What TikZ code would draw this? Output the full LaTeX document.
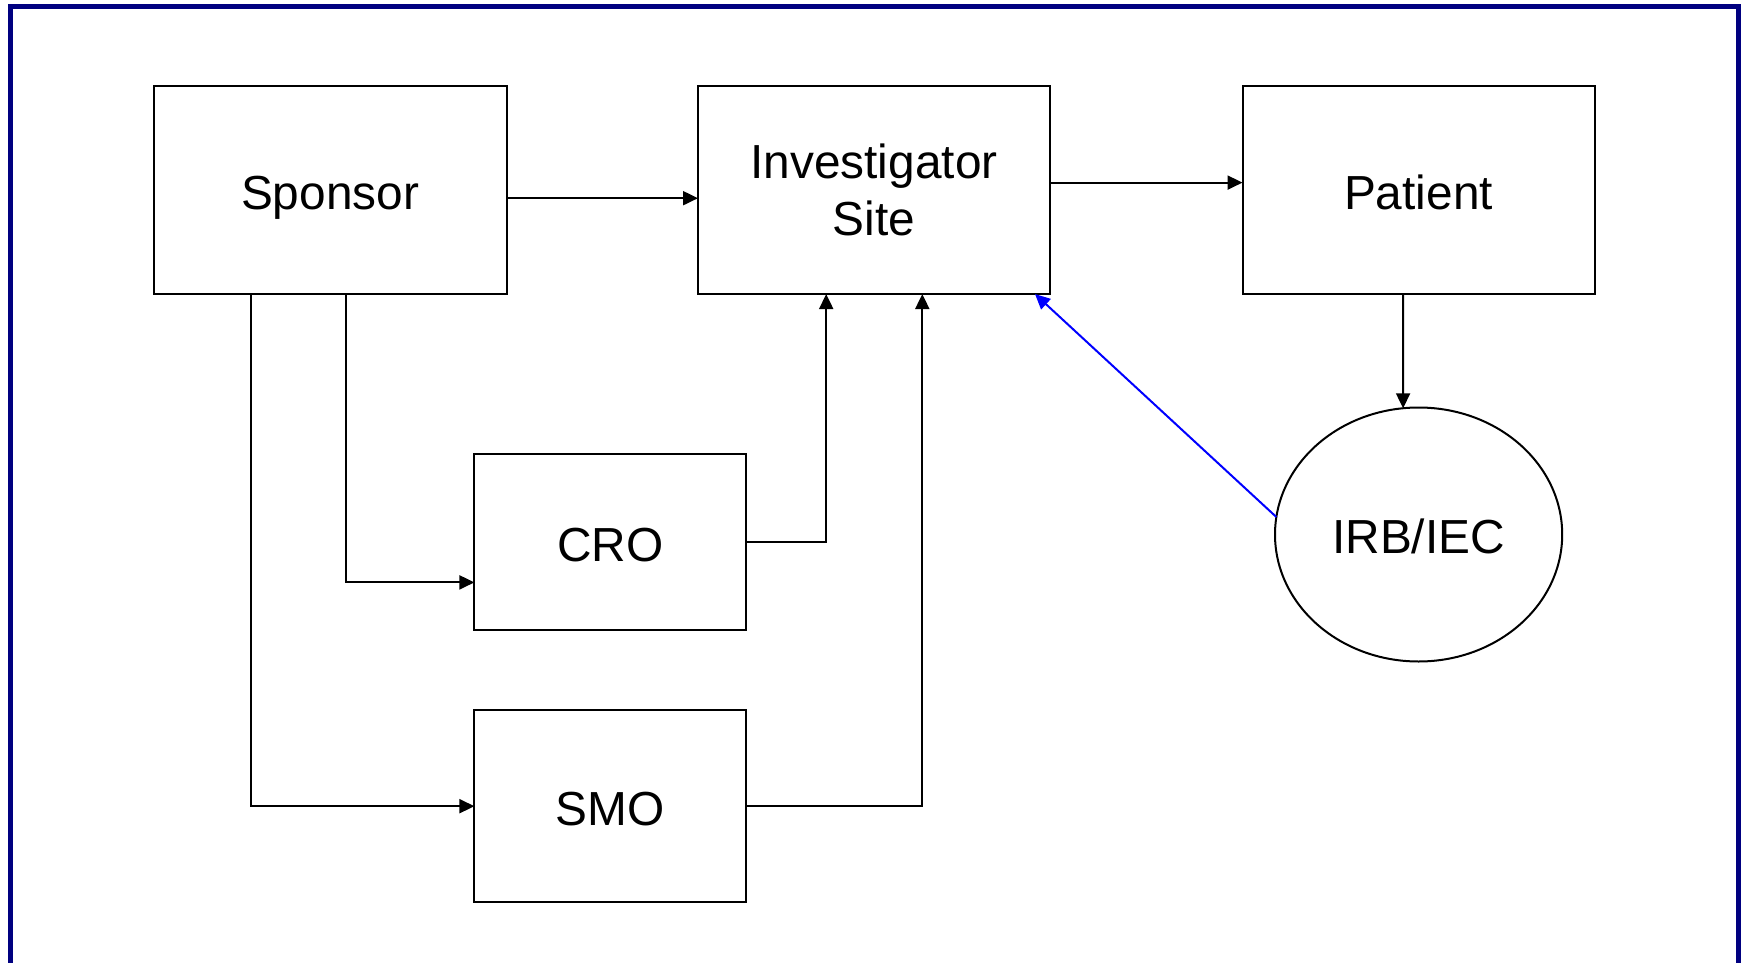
\documentclass[tikz,border=0pt]{standalone}
\usepackage{fontspec}
\setmainfont{Liberation Sans}
\usetikzlibrary{arrows.meta,shapes.geometric}
\definecolor{navyframe}{RGB}{0,0,128}
\definecolor{bluearrow}{RGB}{0,0,255}
\begin{document}
\begin{tikzpicture}[x=1pt,y=-1pt,
  lbl/.style={font=\fontsize{47.8}{57}\selectfont, align=center, text=black},
  oneline/.style={text height=38.2pt, text depth=0pt},
  boxnode/.style={draw=black, line width=2pt, rectangle, inner sep=0pt, outer sep=0pt, lbl},
  ovalnode/.style={draw=black, line width=2pt, ellipse, inner sep=0pt, outer sep=0pt, lbl},
  conn/.style={draw=black, line width=2pt, -{Triangle[length=15pt,width=14pt]}},
  blueconn/.style={draw=bluearrow, line width=2pt, -{Triangle[length=15pt,width=14pt]}}
]
\useasboundingbox (0,0) rectangle (1746,963);
\fill[white] (0,0) rectangle (1746,963);
\draw[navyframe, line width=4.8pt] (10.3,6.2) rectangle (1738.5,985);

\node[boxnode, oneline, minimum width=352.9pt, minimum height=208.3pt] (sponsor) at (330.1,189.9) {Sponsor};
\node[boxnode, minimum width=352pt, minimum height=208.3pt] (inv) at (874,189.9) {Investigator\\Site};
\node[boxnode, oneline, minimum width=352pt, minimum height=208.3pt] (patient) at (1418.5,189.9) {Patient};
\node[boxnode, oneline, minimum width=271.6pt, minimum height=175.9pt] (cro) at (610.2,542.3) {CRO};
\node[boxnode, oneline, minimum width=271.6pt, minimum height=191.6pt] (smo) at (610.2,806.2) {SMO};
\node[ovalnode, oneline, minimum width=287.2pt, minimum height=254pt] (irb) at (1418.6,534.5) {IRB/IEC};

\draw[conn] ([yshift=-8.3pt]sponsor.east) -- ([yshift=-8.3pt]inv.west);
\draw[conn] ([yshift=7.3pt]inv.east) -- ([yshift=7.3pt]patient.west);
\draw[conn] ([xshift=16.2pt]sponsor.south) |- ([yshift=-40.1pt]cro.west);
\draw[conn] ([xshift=-79.6pt]sponsor.south) |- (smo.west);
\draw[conn] (cro.east) -| ([xshift=-47.8pt]inv.south);
\draw[conn] (smo.east) -| ([xshift=48.3pt]inv.south);
\draw[conn] ([xshift=-15.5pt]patient.south) -- ([xshift=-15.5pt,yshift=-0.8pt]irb.north);
\draw[blueconn] (irb.173) -- ([xshift=-15pt]inv.south east);
\end{tikzpicture}
\end{document}
